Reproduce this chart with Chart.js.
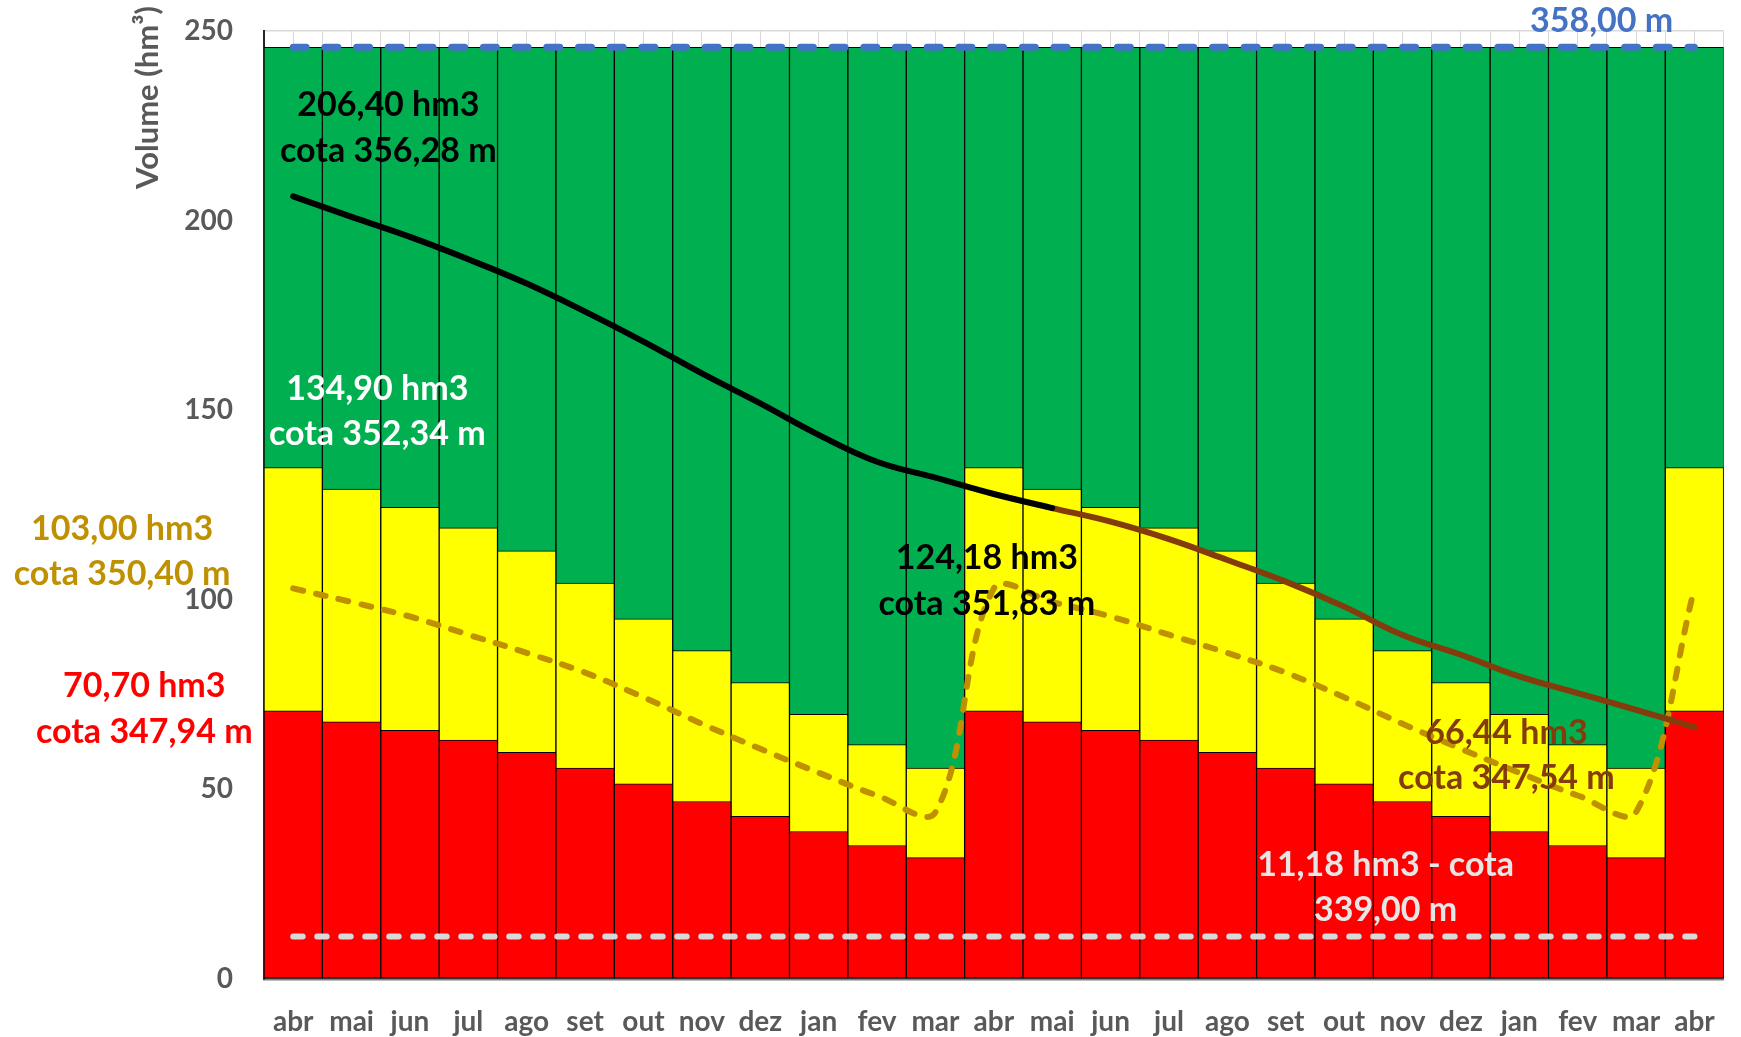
<!DOCTYPE html>
<html>
<head>
<meta charset="utf-8">
<script src="https://cdn.jsdelivr.net/npm/chart.js@4.4.1/dist/chart.umd.min.js"></script>
<style>
  html, body { margin: 0; padding: 0; background: #ffffff; }
  canvas { display: block; }
</style>
</head>
<body>
<canvas id="chart" width="1741" height="1037"></canvas>
<script>
// ---------------- DATA ----------------
const months = ['abr','mai','jun','jul','ago','set','out','nov','dez','jan','fev','mar',
                'abr','mai','jun','jul','ago','set','out','nov','dez','jan','fev','mar','abr'];

// red zone upper limit (hm3)
const criticalLevel = [70.7, 67.8, 65.6, 63.0, 59.8, 55.6, 51.5, 46.8, 42.9, 38.9, 35.2, 32.0,
                       70.7, 67.8, 65.6, 63.0, 59.8, 55.6, 51.5, 46.8, 42.9, 38.9, 35.2, 32.0, 70.7];
// yellow zone upper limit (hm3)
const alertLevel = [134.9, 129.2, 124.4, 119.0, 112.9, 104.4, 95.0, 86.6, 78.2, 69.8, 61.8, 55.6,
                    134.9, 129.2, 124.4, 119.0, 112.9, 104.4, 95.0, 86.6, 78.2, 69.8, 61.8, 55.6, 134.9];
// full capacity (cota 358,00 m)
const capacity = [245.7, 245.7, 245.7, 245.7, 245.7, 245.7, 245.7, 245.7, 245.7, 245.7, 245.7, 245.7,
                  245.7, 245.7, 245.7, 245.7, 245.7, 245.7, 245.7, 245.7, 245.7, 245.7, 245.7, 245.7, 245.7];
// simulated volume, first year
const volumeYear1 = [206.4, 201.0, 195.7, 189.8, 183.4, 176.0, 168.1, 159.7, 151.8, 143.5, 136.4, 132.2,
                     127.9, 124.18, null, null, null, null, null, null, null, null, null, null, null];
// simulated volume, second year
const volumeYear2 = [null, null, null, null, null, null, null, null, null, null, null, null,
                     null, 124.18, 120.6, 116.0, 110.5, 104.8, 98.2, 90.7, 85.5, 79.8, 75.4, 71.0, 66.44];
// target curve (dashed gold)
const targetCurve = [103.0, 99.4, 95.6, 90.8, 86.0, 80.8, 74.3, 67.3, 60.7, 54.4, 48.4, 44.0,
                     103.0, 99.4, 95.6, 90.8, 86.0, 80.8, 74.3, 67.3, 60.7, 54.4, 48.4, 44.0, 103.0];
// dead volume (cota 339,00 m)
const deadVolume = [11.18, 11.18, 11.18, 11.18, 11.18, 11.18, 11.18, 11.18, 11.18, 11.18, 11.18, 11.18,
                    11.18, 11.18, 11.18, 11.18, 11.18, 11.18, 11.18, 11.18, 11.18, 11.18, 11.18, 11.18, 11.18];
const yTicks = [0, 50, 100, 150, 200, 250];
const yTitle = 'Volume (hm³)';

// text annotations: [text lines], anchored in data units (category index, volume)
const notes = [
  { text: ['206,40 hm3', 'cota 356,28 m'], at: [1.63, 230.4, 218.4], color: '#000000' },
  { text: ['134,90 hm3', 'cota 352,34 m'], at: [1.44, 155.6, 143.6], color: '#FFFFFF' },
  { text: ['103,00 hm3', 'cota 350,40 m'], at: [-2.93, 118.7, 106.7], color: '#BF9000' },
  { text: ['70,70 hm3', 'cota 347,94 m'], at: [-2.55, 77.2, 65.2], color: '#FF0000' },
  { text: ['124,18 hm3', 'cota 351,83 m'], at: [11.88, 111.1, 98.8], color: '#000000' },
  { text: ['66,44 hm3', 'cota 347,54 m'], at: [20.78, 64.9, 52.9], color: '#843C0C' },
  { text: ['11,18 hm3 - cota', '339,00 m'], at: [18.71, 30.1, 18.1], color: '#E7E6E6' },
  { text: ['358,00 m'], at: [22.41, 252.6], color: '#4472C4' }
];

// ---------------- CHART ----------------
const FONT = 'Lato';
const textPlugin = {
  id: 'textPlugin',
  afterDatasetsDraw(chart) {
    const { ctx, scales } = chart;
    const x = scales.x, y = scales.y;
    ctx.save();
    ctx.textAlign = 'center';
    ctx.textBaseline = 'middle';
    ctx.font = 'bold 34px ' + FONT;
    notes.forEach(n => {
      ctx.fillStyle = n.color;
      const px = x.getPixelForValue(n.at[0]);
      n.text.forEach((t, i) => ctx.fillText(t, px, y.getPixelForValue(n.at[i + 1])));
    });
    // y axis title, aligned near the top of the axis
    ctx.font = 'bold 31px ' + FONT;
    ctx.fillStyle = '#595959';
    const w = ctx.measureText(yTitle).width;
    ctx.translate(148, 6 + w / 2);
    ctx.rotate(-Math.PI / 2);
    ctx.fillText(yTitle, 0, 0);
    ctx.restore();
  }
};

const barCommon = {
  type: 'bar',
  grouped: false,
  barPercentage: 1,
  categoryPercentage: 1,
  borderColor: '#000000',
  borderWidth: 1,
  borderSkipped: false
};
const lineCommon = {
  type: 'line',
  pointRadius: 0,
  fill: false,
  order: 0
};

new Chart(document.getElementById('chart'), {
  type: 'bar',
  data: {
    labels: months,
    datasets: [
      { ...lineCommon, label: 'Volume 358,00 m', data: capacity, borderColor: '#4472C4',
        borderWidth: 7, borderDash: [13, 18.7], borderCapStyle: 'round', tension: 0 },
      { ...lineCommon, label: 'Volume morto', data: deadVolume, borderColor: '#D9D9D9',
        borderWidth: 6, borderDash: [9.5, 14.5], borderCapStyle: 'round', tension: 0 },
      { ...lineCommon, label: 'Curva meta', data: targetCurve, borderColor: '#BF9000',
        borderWidth: 6, borderDash: [10, 13.3], borderCapStyle: 'round', tension: 0.35 },
      { ...lineCommon, label: 'Volume ano 1', data: volumeYear1, borderColor: '#000000',
        borderWidth: 6, tension: 0.4, borderCapStyle: 'round', order: -1 },
      { ...lineCommon, label: 'Volume ano 2', data: volumeYear2, borderColor: '#843C0C',
        borderWidth: 6, tension: 0.4, borderCapStyle: 'round', order: -1 },
      { ...barCommon, label: 'Faixa vermelha', data: criticalLevel, backgroundColor: '#FF0000', order: 1 },
      { ...barCommon, label: 'Faixa amarela', data: alertLevel, backgroundColor: '#FFFF00', order: 2 },
      { ...barCommon, label: 'Faixa verde', data: capacity, backgroundColor: '#00B050', order: 3 }
    ]
  },
  options: {
    responsive: false,
    animation: false,
    devicePixelRatio: 1,
    layout: { padding: { top: 31, right: 14, left: 0, bottom: 0 } },
    plugins: {
      legend: { display: false },
      tooltip: { enabled: false }
    },
    scales: {
      x: {
        offset: true,
        grid: { display: true, offset: true, color: '#D9D9D9', lineWidth: 1, drawTicks: false },
        border: { display: true, color: '#7F7F7F', width: 2.5 },
        ticks: {
          autoSkip: false, maxRotation: 0, padding: 26, color: '#595959',
          font: { family: FONT, size: 28, weight: 'bold' }
        },
        afterFit(s) { s.height = 58; }
      },
      x2: {
        type: 'category',
        position: 'bottom',
        labels: months,
        offset: true,
        grid: { display: true, offset: false, color: '#D9D9D9', lineWidth: 1, drawTicks: false },
        border: { display: false },
        ticks: { display: false },
        afterFit(s) { s.height = 0; }
      },
      y: {
        min: 0,
        max: 250,
        afterBuildTicks(s) { s.ticks = yTicks.map(v => ({ value: v })); },
        grid: { color: '#D9D9D9', lineWidth: 1.5, drawTicks: false },
        border: { display: true, color: '#262626', width: 2 },
        ticks: {
          padding: 31, color: '#595959',
          font: { family: FONT, size: 28, weight: 'bold' }
        },
        afterFit(s) { s.width = 264; s.paddingTop = 0; s.paddingBottom = 0; }
      }
    }
  },
  plugins: [textPlugin]
});
</script>
</body>
</html>
